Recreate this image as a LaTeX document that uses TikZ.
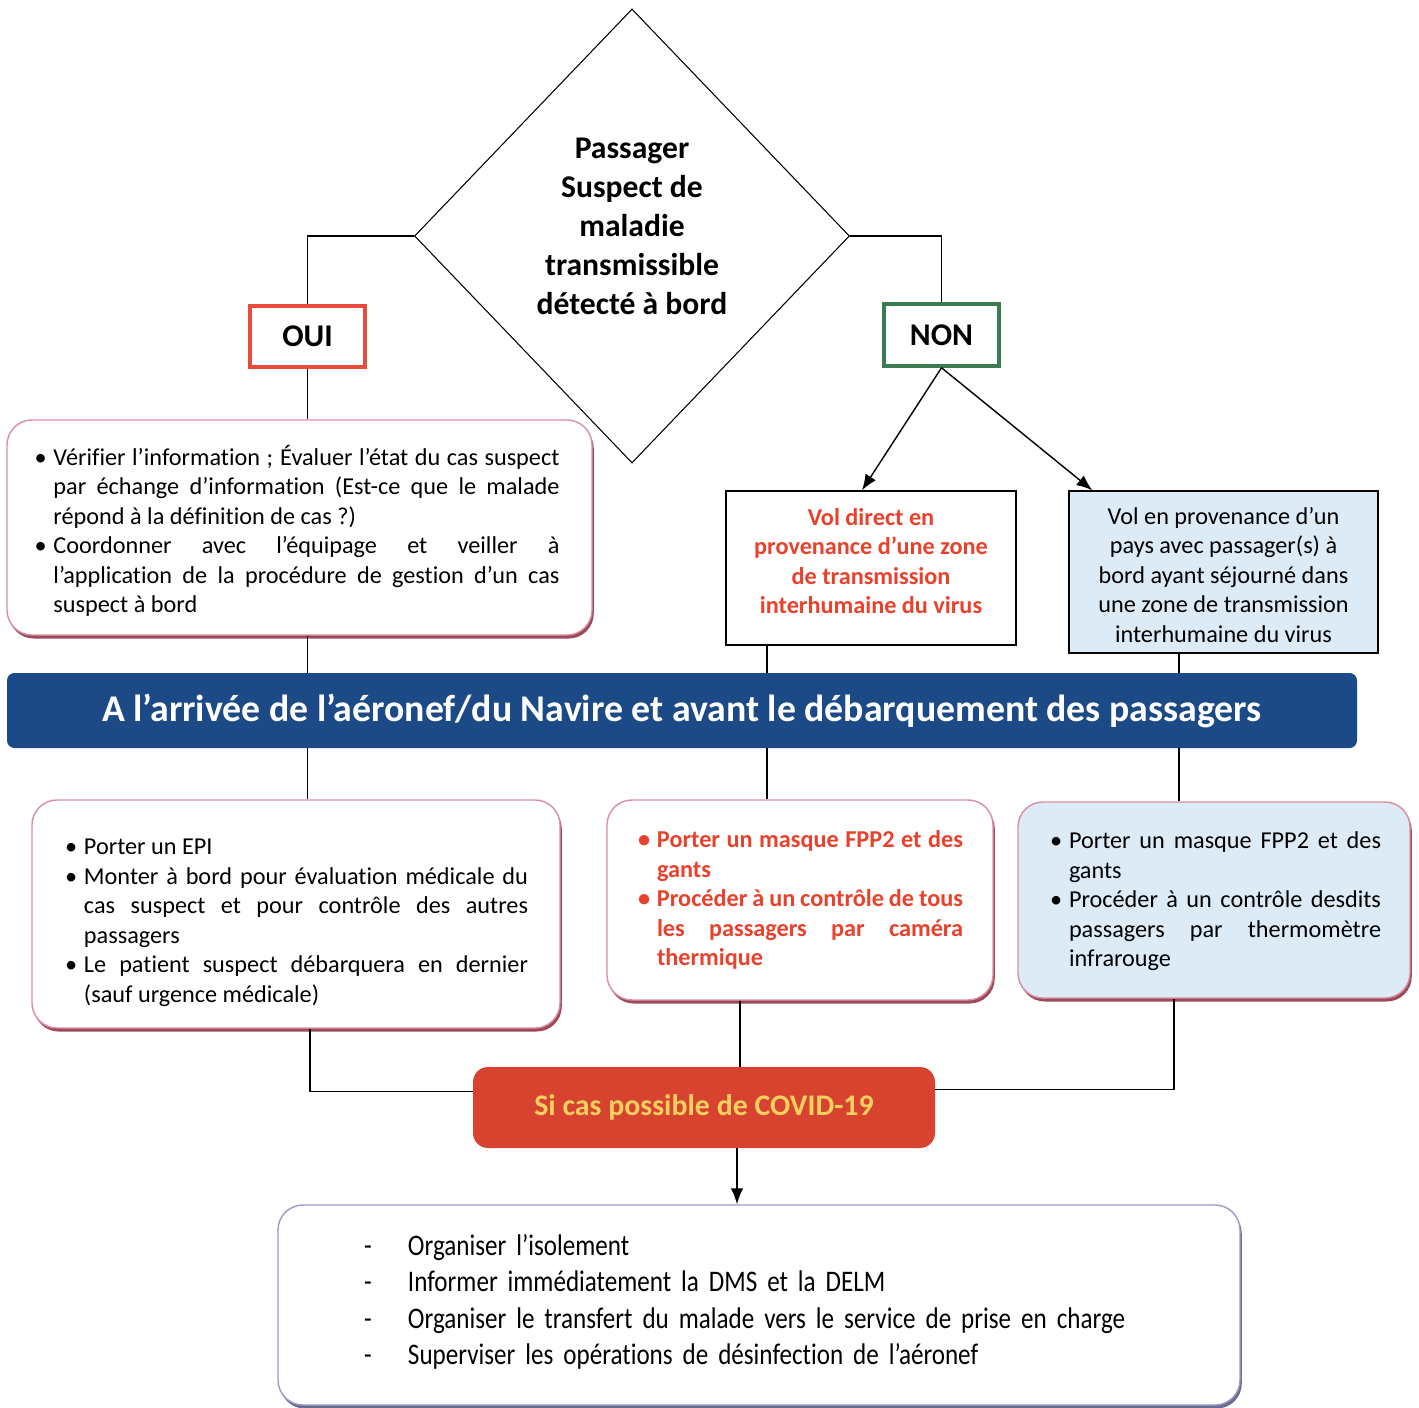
\documentclass[tikz,border=0pt]{standalone}
\usepackage{fontspec}
\setmainfont{Carlito}[Ligatures=NoCommon]
\newfontfamily\condfont{Carlito}[FakeStretch=0.84,Ligatures=NoCommon]
\usetikzlibrary{shapes.geometric,arrows.meta,shadows,calc}
\definecolor{pinkb}{HTML}{D98FA0}
\definecolor{shad}{HTML}{9C4A5A}
\definecolor{lblue}{HTML}{DDEBF7}
\definecolor{banblue}{HTML}{1B4A87}
\definecolor{redtxt}{HTML}{E8412C}
\definecolor{covfill}{HTML}{D8432F}
\definecolor{covtxt}{HTML}{F7D060}
\definecolor{ouired}{HTML}{E84A3C}
\definecolor{nongreen}{HTML}{3C7A52}
\definecolor{botb}{HTML}{9A9ACB}
\hyphenpenalty=10000 \exhyphenpenalty=10000
\newcommand\bitem[1]{\par\noindent\hangindent=0.38cm\hangafter=1\makebox[0.38cm][l]{\textbullet}#1\par}
\newcommand\ditem[1]{\par\noindent\hangindent=0.88cm\hangafter=1\makebox[0.88cm][l]{-}#1\par}
\begin{document}
\begin{tikzpicture}[x=0.02cm,y=-0.02cm,
  conn/.style={draw=black,line width=0.8pt},
  arr/.style={conn,-{Latex[length=9pt,width=7pt]}},
  roundbox/.style={draw=pinkb,line width=0.8pt,rounded corners=0.5cm,fill=white,
    drop shadow={shadow xshift=1pt,shadow yshift=-2pt,fill=shad,opacity=1}},
  bodytxt/.style={font=\fontsize{13.8}{16.8}\selectfont,align=justify,inner sep=0pt},
  sqbox/.style={draw=black,line width=0.8pt,inner sep=0pt}
]
\useasboundingbox (0,0) rectangle (1419,1408);
\fill[white] (0,0) rectangle (1419,1408);
% diamond
\node[diamond,draw=black,line width=0.6pt,minimum width={435*0.02cm},minimum height={454*0.02cm},inner sep=0pt] (dia) at (632,236) {};
\node[font=\fontsize{18}{22.2}\selectfont\bfseries,align=center,inner sep=0pt] (diat) at (632,226)
  {Passager\\Suspect de\\maladie\\transmissible\\détecté à bord};
% OUI / NON
\node[draw=ouired,line width=2pt,minimum width={115*0.02cm},minimum height={61*0.02cm},
  font=\fontsize{18}{22}\selectfont\bfseries] (oui) at (307.5,336.5) {OUI};
\node[draw=nongreen,line width=2pt,minimum width={115*0.02cm},minimum height={62*0.02cm},
  font=\fontsize{18}{22}\selectfont\bfseries] (non) at (941.5,335) {NON};
% box 1
\node[roundbox,minimum width={585*0.02cm},minimum height={215*0.02cm}] (b1) at (299.5,527.5) {};
\node[bodytxt,text width={525*0.02cm}] (t1) at (297,526) {%
\bitem{Vérifier l’information ; Évaluer l’état du cas suspect \linebreak par échange d’information (Est-ce que le malade \linebreak répond à la définition de cas ?)}%
\bitem{Coordonner avec l’équipage et veiller à \linebreak l’application de la procédure de gestion d’un cas \linebreak suspect à bord}};
% vol direct
\node[sqbox,fill=white,minimum width={290*0.02cm},minimum height={154*0.02cm}] (vd) at (871,568) {};
\node[inner sep=0pt,align=center,font=\fontsize{13.8}{16.8}\selectfont\bfseries,text=redtxt] (vdt) at (871,561)
  {Vol direct en\\provenance d’une zone\\de transmission\\interhumaine du virus};
\node[sqbox,fill=lblue,minimum width={309*0.02cm},minimum height={162*0.02cm}] (vp) at (1223.5,572) {};
\node[inner sep=0pt,align=center,font=\fontsize{13.8}{16.8}\selectfont] (vpt) at (1223.5,575)
  {Vol en provenance d’un\\pays avec passager(s) à\\bord ayant séjourné dans\\une zone de transmission\\interhumaine du virus};
% banner
\node[fill=banblue,rounded corners=0.15cm,minimum width={1350*0.02cm},minimum height={75*0.02cm},
  text=white,font=\fontsize{21.5}{26}\selectfont\bfseries] (ban) at (682,710.5)
  {A l’arrivée de l’aéronef/du Navire et avant le débarquement des passagers};
% second row
\node[roundbox,minimum width={528*0.02cm},minimum height={228*0.02cm}] (b2l) at (296,914) {};
\node[bodytxt,text width={463*0.02cm}] (t2l) at (296.5,916) {%
\bitem{Porter un EPI}%
\bitem{Monter à bord pour évaluation médicale du \linebreak cas suspect et pour contrôle des autres \linebreak passagers}%
\bitem{Le patient suspect débarquera en dernier \linebreak (sauf urgence médicale)}};
\node[roundbox,minimum width={386*0.02cm},minimum height={200*0.02cm}] (b2m) at (800,900) {};
\node[bodytxt,text width={325*0.02cm},text=redtxt,font=\fontsize{13.8}{16.8}\selectfont\bfseries] (t2m) at (800.5,894) {%
\bitem{Porter un masque FPP2 et des \linebreak gants}%
\bitem{Procéder à un contrôle de tous \linebreak les passagers par caméra \linebreak thermique}};
\node[roundbox,fill=lblue,minimum width={392*0.02cm},minimum height={196*0.02cm}] (b2r) at (1214,900) {};
\node[bodytxt,text width={331*0.02cm}] (t2r) at (1215.5,895) {%
\bitem{Porter un masque FPP2 et des \linebreak gants}%
\bitem{Procéder à un contrôle desdits \linebreak passagers par thermomètre \linebreak infrarouge}};
% covid
\node[fill=covfill,rounded corners=0.3cm,minimum width={462*0.02cm},minimum height={81*0.02cm},
  text=covtxt,font=\fontsize{17}{20}\selectfont\bfseries] (cov) at (704,1107.5) {Si cas possible de COVID-19};
% bottom
\node[draw=botb,line width=0.8pt,rounded corners=0.5cm,fill=white,minimum width={962*0.02cm},minimum height={200*0.02cm},
  drop shadow={shadow xshift=1pt,shadow yshift=-2pt,fill=botb!70!black,opacity=1}] (bot) at (759,1305) {};
\node[inner sep=0pt,text width={790*0.02cm},align=left,font=\condfont\fontsize{17}{20.8}\selectfont] (tb) at (759,1294) {%
\ditem{Organiser l’isolement}%
\ditem{Informer immédiatement la DMS et la DELM}%
\ditem{Organiser le transfert du malade vers le service de prise en charge}%
\ditem{Superviser les opérations de désinfection de l’aéronef}};
% coordinates for connectors
\coordinate (cm) at (767,0);
\coordinate (cr) at (1179,0);
\coordinate (cl2) at (310,0);
\coordinate (cm2) at (740,0);
\coordinate (cr2) at (1174,0);
\coordinate (ca) at (737,0);
% connectors
\draw[conn] (dia.west) -| (oui.north);
\draw[conn] (oui.south) -- (oui.south |- b1.north);
\draw[conn] (dia.east) -| (non.north);
\draw[arr] (non.south) -- ($(vd.north)+(-9,0)$);
\draw[arr] (non.south) -- ($(vp.north west)+(24,0)$);
\draw[conn] (oui |- b1.south) -- (oui |- ban.north);
\draw[conn] (cm |- vd.south) -- (cm |- ban.north);
\draw[conn] (cr |- vp.south) -- (cr |- ban.north);
\draw[conn] (oui |- ban.south) -- (oui |- b2l.north);
\draw[conn] (cm |- ban.south) -- (cm |- b2m.north);
\draw[conn] (cr |- ban.south) -- (cr |- b2r.north);
\draw[conn] (cl2 |- b2l.south) |- ($(cov.west)+(0,-16)$);
\draw[conn] (cm2 |- b2m.south) -- (cm2 |- cov.north);
\draw[conn] (cr2 |- b2r.south) |- ($(cov.east)+(0,-18)$);
\draw[arr] (ca |- cov.south) -- (ca |- bot.north);
\end{tikzpicture}
\end{document}
